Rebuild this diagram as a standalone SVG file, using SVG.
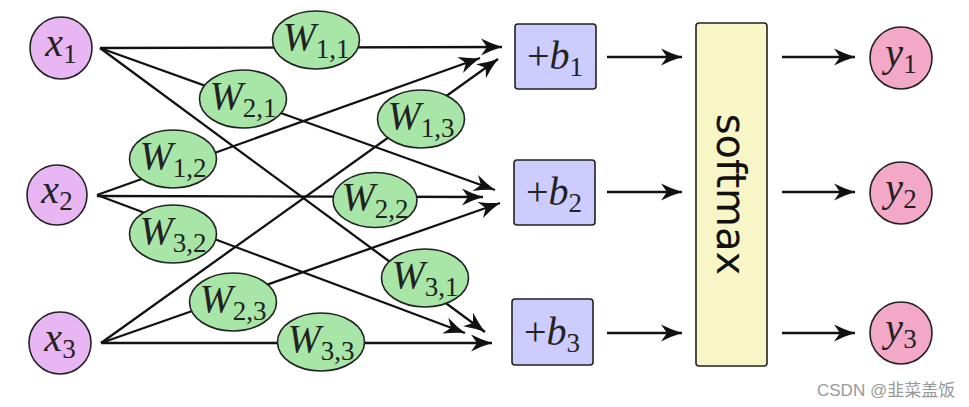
<svg xmlns="http://www.w3.org/2000/svg" width="969" height="407" viewBox="0 0 969 407">
<defs>
<marker id="ah" markerUnits="userSpaceOnUse" markerWidth="24" markerHeight="20" viewBox="-22 -10 24 20" refX="0" refY="0" orient="auto">
<path d="M0,0 Q-10,-3 -21,-8.5 L-15,0 L-21,8.5 Q-10,3 0,0 Z" fill="#111"/>
</marker>
<style>
.ln{fill:none;stroke:#111;stroke-width:2.3;marker-end:url(#ah)}
.xin{fill:#e8b6f2;stroke:#222;stroke-width:1.6}
.w{fill:#a8e6a8;stroke:#222;stroke-width:1.6}
.b{fill:#ccccff;stroke:#222;stroke-width:1.6}
.sm{fill:#f8f6c6;stroke:#222;stroke-width:1.6}
.yo{fill:#f2a8c6;stroke:#222;stroke-width:1.6}
.m{font-family:"Liberation Serif","DejaVu Serif",serif;font-size:40px;fill:#222;text-anchor:middle}
.i{font-style:italic}
.s{font-size:27px;font-style:normal}
</style>
</defs>
<g id="connectors">
<path class="ln" d="M100,48 L502,47"/>
<path class="ln" d="M100,48 L495,190"/>
<path class="ln" d="M100,48 L485,332"/>
<path class="ln" d="M97,195 L480,58"/>
<path class="ln" d="M97,196 L483,197"/>
<path class="ln" d="M97,195 L465,333"/>
<path class="ln" d="M101,343 L498,59"/>
<path class="ln" d="M101,343 L500,203"/>
<path class="ln" d="M101,343 L492,343"/>
<path class="ln" d="M607,57 L682,57"/>
<path class="ln" d="M607,192 L682,192"/>
<path class="ln" d="M607,333 L682,333"/>
<path class="ln" d="M782,57 L855,57"/>
<path class="ln" d="M782,192 L855,192"/>
<path class="ln" d="M782,333 L855,333"/>
</g>
<g id="x1"><circle class="xin" cx="61" cy="48" r="31"/><text class="m" x="61" y="56"><tspan class="i">x</tspan><tspan class="s" dy="7">1</tspan></text></g>
<g id="x2"><circle class="xin" cx="57" cy="195" r="30"/><text class="m" x="57" y="203"><tspan class="i">x</tspan><tspan class="s" dy="7">2</tspan></text></g>
<g id="x3"><circle class="xin" cx="60" cy="343" r="31"/><text class="m" x="60" y="351"><tspan class="i">x</tspan><tspan class="s" dy="7">3</tspan></text></g>
<g id="W11"><ellipse class="w" cx="316" cy="40" rx="43.5" ry="29"/><text class="m" x="316" y="50"><tspan class="i">W</tspan><tspan class="s" dy="8">1,1</tspan></text></g>
<g id="W21"><ellipse class="w" cx="243" cy="99" rx="43.5" ry="29"/><text class="m" x="243" y="109"><tspan class="i">W</tspan><tspan class="s" dy="8">2,1</tspan></text></g>
<g id="W31"><ellipse class="w" cx="425" cy="278" rx="43.5" ry="29"/><text class="m" x="425" y="288"><tspan class="i">W</tspan><tspan class="s" dy="8">3,1</tspan></text></g>
<g id="W12"><ellipse class="w" cx="173" cy="159" rx="43.5" ry="29"/><text class="m" x="173" y="169"><tspan class="i">W</tspan><tspan class="s" dy="8">1,2</tspan></text></g>
<g id="W22"><ellipse class="w" cx="375" cy="200" rx="42" ry="27.5"/><text class="m" x="375" y="210"><tspan class="i">W</tspan><tspan class="s" dy="8">2,2</tspan></text></g>
<g id="W32"><ellipse class="w" cx="173" cy="234" rx="43.5" ry="29"/><text class="m" x="173" y="244"><tspan class="i">W</tspan><tspan class="s" dy="8">3,2</tspan></text></g>
<g id="W13"><ellipse class="w" cx="421" cy="119" rx="43.5" ry="29"/><text class="m" x="421" y="129"><tspan class="i">W</tspan><tspan class="s" dy="8">1,3</tspan></text></g>
<g id="W23"><ellipse class="w" cx="233" cy="302" rx="43.5" ry="29"/><text class="m" x="233" y="312"><tspan class="i">W</tspan><tspan class="s" dy="8">2,3</tspan></text></g>
<g id="W33"><ellipse class="w" cx="321" cy="342" rx="43.5" ry="29"/><text class="m" x="321" y="352"><tspan class="i">W</tspan><tspan class="s" dy="8">3,3</tspan></text></g>
<g id="b1"><rect class="b" x="515" y="24" width="81" height="65" rx="3"/><text class="m" x="555" y="69">+<tspan class="i">b</tspan><tspan class="s" dy="7">1</tspan></text></g>
<g id="b2"><rect class="b" x="514" y="160" width="81" height="65" rx="3"/><text class="m" x="554" y="205">+<tspan class="i">b</tspan><tspan class="s" dy="7">2</tspan></text></g>
<g id="b3"><rect class="b" x="512" y="299" width="81" height="66" rx="3"/><text class="m" x="552" y="345">+<tspan class="i">b</tspan><tspan class="s" dy="7">3</tspan></text></g>
<g id="softmax"><rect class="sm" x="696" y="23" width="71" height="343" rx="3"/><text transform="translate(717,194.5) rotate(90)" text-anchor="middle" font-family="DejaVu Sans,sans-serif" font-size="40" fill="#111">softmax</text></g>
<g id="y1"><circle class="yo" cx="901" cy="58" r="31"/><text class="m" x="901" y="66"><tspan class="i">y</tspan><tspan class="s" dy="7">1</tspan></text></g>
<g id="y2"><circle class="yo" cx="901" cy="193" r="31"/><text class="m" x="901" y="201"><tspan class="i">y</tspan><tspan class="s" dy="7">2</tspan></text></g>
<g id="y3"><circle class="yo" cx="901" cy="333" r="31"/><text class="m" x="901" y="341"><tspan class="i">y</tspan><tspan class="s" dy="7">3</tspan></text></g>
<text x="817" y="396" font-family="Liberation Sans,Noto Sans CJK SC,sans-serif" font-size="17" fill="#999">CSDN @韭菜盖饭</text>
</svg>
